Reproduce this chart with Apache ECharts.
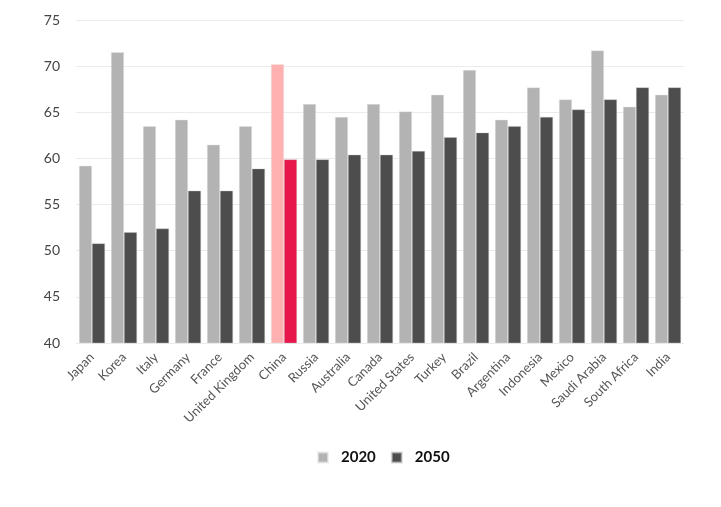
<!DOCTYPE html>
<html><head><meta charset="utf-8">
<script src="https://cdn.jsdelivr.net/npm/echarts@6/dist/echarts.min.js"></script>
<style>html,body{margin:0;padding:0;background:#fff}#c{width:721px;height:507px}</style>
</head><body><div id="c"></div>
<script>
var categories = ["Japan","Korea","Italy","Germany","France","United Kingdom","China","Russia","Australia","Canada","United States","Turkey","Brazil","Argentina","Indonesia","Mexico","Saudi Arabia","South Africa","India"];
var values2020 = [59.2,71.5,63.5,64.2,61.5,63.5,70.2,65.9,64.5,65.9,65.1,66.9,69.6,64.2,67.7,66.4,71.7,65.6,66.9];
var values2050 = [50.8,52.0,52.4,56.5,56.5,58.9,59.9,59.9,60.4,60.4,60.8,62.3,62.8,63.5,64.5,65.3,66.4,67.7,67.7];
var highlight = "China";

var chart = echarts.init(document.getElementById('c'));
function mk(vals, hl) {
  return vals.map(function (v, i) {
    return categories[i] === highlight ? {value: v, itemStyle: {color: hl}} : v;
  });
}
chart.setOption({
  animation: false,
  textStyle: {fontFamily: 'Lato'},
  grid: {left: 76, right: 37, top: 20, bottom: 164},
  legend: {
    top: 445, left: 312, itemWidth: 10, itemHeight: 10, itemGap: 15,
    icon: 'rect',
    textStyle: {fontSize: 15, fontWeight: 'bold', color: '#111', fontFamily: 'Lato', padding: [0, 0, 0, 8]},
    data: ['2020', '2050']
  },
  xAxis: {
    type: 'category', data: categories,
    axisLine: {show: false}, axisTick: {show: false},
    axisLabel: {rotate: 45, fontSize: 13, color: '#555', interval: 0, margin: 12}
  },
  yAxis: {
    type: 'value', min: 40, max: 75, interval: 5,
    axisLine: {show: false}, axisTick: {show: false},
    axisLabel: {fontSize: 14, color: '#444', margin: 16},
    splitLine: {lineStyle: {color: '#ebebeb'}}
  },
  series: [
    {name: '2020', type: 'bar', barWidth: 13, barGap: '0%', data: mk(values2020, '#ffb0b0'),
     itemStyle: {color: '#b3b3b3', borderColor: 'rgba(230,230,230,0.7)', borderWidth: 0.6}},
    {name: '2050', type: 'bar', barWidth: 13, barGap: '0%', data: mk(values2050, '#e8174b'),
     itemStyle: {color: '#4d4d4d', borderColor: 'rgba(200,200,200,0.6)', borderWidth: 0.6}}
  ]
});
</script></body></html>
